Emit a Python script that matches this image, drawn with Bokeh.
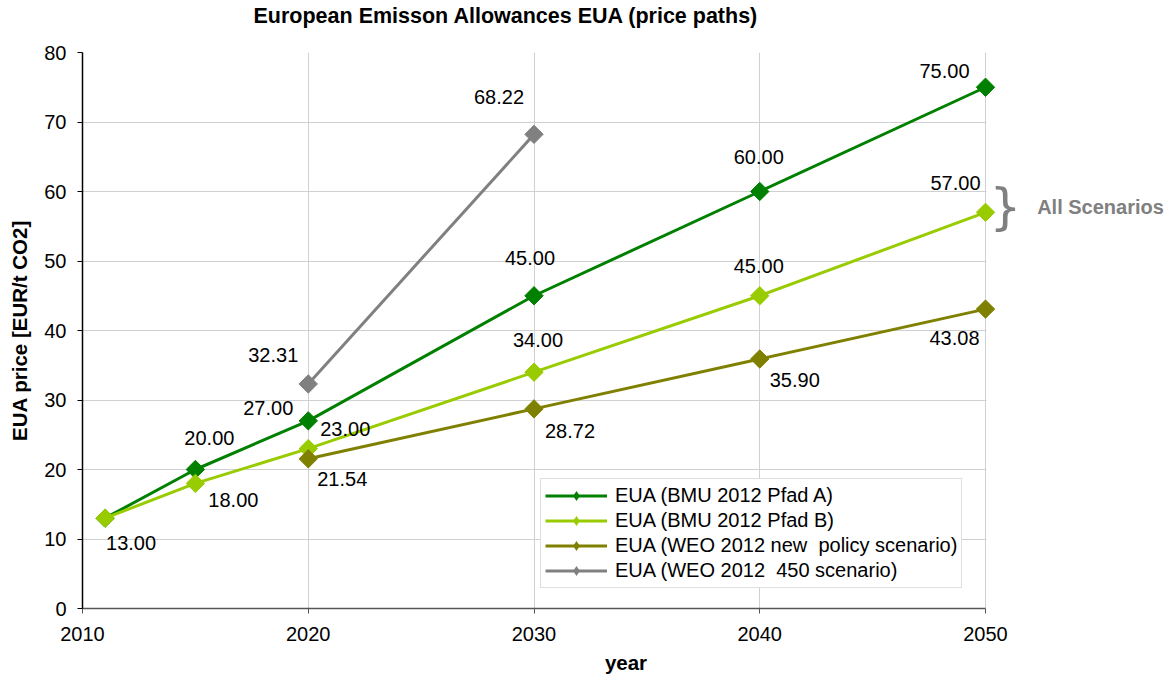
import math

from bokeh.core.properties import value
from bokeh.embed import file_html
from bokeh.models import (BoxAnnotation, ColumnDataSource, FixedTicker,
                          Legend, LegendItem, Range1d, Title)
from bokeh.plotting import figure
from bokeh.resources import INLINE

# EUA price paths [EUR/t CO2]
years_a = [2011, 2015, 2020, 2030, 2040, 2050]
pfad_a = [13.00, 20.00, 27.00, 45.00, 60.00, 75.00]

years_b = [2011, 2015, 2020, 2030, 2040, 2050]
pfad_b = [13.00, 18.00, 23.00, 34.00, 45.00, 57.00]

years_weo_np = [2020, 2030, 2040, 2050]
weo_new_policy = [21.54, 28.72, 35.90, 43.08]

years_weo_450 = [2020, 2030]
weo_450 = [32.31, 68.22]

series_names = [
    "EUA (BMU 2012 Pfad A)",
    "EUA (BMU 2012 Pfad B)",
    "EUA (WEO 2012 new  policy scenario)",
    "EUA (WEO 2012  450 scenario)",
]
note_text = "All Scenarios"

x_ticks = [2010, 2020, 2030, 2040, 2050]
y_ticks = [0, 10, 20, 30, 40, 50, 60, 70, 80]

# styling
colors = ["#008000", "#99cc00", "#808000", "#808080"]
FONT = "Liberation Sans"

# value-label offsets in screen pixels (dx, dy; dy positive = down); None = no label
label_offsets = [
    [None, (14, -32), (-40, -13), (-4, -38), (-1, -35), (-41, -16)],
    [(26, 25), (38, 17), (37, -20), (4, -32), (-1, -30), (-30, -29)],
    [(34, 20), (36, 22), (35, 21), (-31, 29)],
    [(-35, -29), (-35, -37)],
]

# the frame runs on past the last year to leave room for the side note
AXIS_PX = 903      # pixel length of the 2010-2050 axis
SIDE_PX = 184      # free space right of the axis end
x_lo, x_hi = x_ticks[0], x_ticks[-1]
x_end = x_hi + (x_hi - x_lo) * SIDE_PX / AXIS_PX

p = figure(
    width=1169, height=676,
    x_range=Range1d(x_lo, x_end), y_range=Range1d(y_ticks[0], y_ticks[-1]),
    output_backend="svg", toolbar_location=None,
    min_border_left=82, min_border_right=0,
    min_border_top=52, min_border_bottom=68,
    background_fill_color="white", border_fill_color="white",
)
p.outline_line_color = None

p.title.text = "European Emisson Allowances EUA (price paths)"
p.title.text_font = FONT
p.title.text_font_size = "21.5px"
p.title.text_font_style = "bold"
p.title.text_color = "black"
p.title.align = "left"
p.title.offset = 171
p.title.standoff = 0
# blank panel that keeps the title clear of the plot area
p.add_layout(Title(text=" ", text_font_size="1px", standoff=22), "above")

# axes
for ax in (p.xaxis, p.yaxis):
    ax.minor_tick_line_color = None
    ax.major_tick_in = 0
    ax.major_tick_out = 5
    ax.major_label_text_font = FONT
    ax.major_label_text_font_size = "20px"
    ax.major_label_text_color = "black"
    ax.axis_label_text_font = FONT
    ax.axis_label_text_font_size = "20.5px"
    ax.axis_label_text_font_style = "bold"
    ax.axis_label_text_color = "black"

p.xaxis.ticker = FixedTicker(ticks=x_ticks)
p.yaxis.ticker = FixedTicker(ticks=y_ticks)
p.xaxis.bounds = (x_lo, x_hi)
p.xaxis.axis_label = "year"
p.yaxis.axis_label = "EUA price [EUR/t CO2]"
p.xaxis.axis_line_color = "#555555"
p.xaxis.major_tick_line_color = "#555555"
p.yaxis.axis_line_color = "black"
p.yaxis.major_tick_line_color = "black"
p.xaxis.axis_line_width = 1.5
p.yaxis.axis_line_width = 1.5
p.yaxis.major_label_standoff = 11
p.xaxis.major_label_standoff = 13
p.xaxis.axis_label_standoff = 7
p.yaxis.axis_label_standoff = 10

# grid
p.xgrid.ticker = FixedTicker(ticks=x_ticks)
p.ygrid.ticker = FixedTicker(ticks=y_ticks)
p.grid.grid_line_color = "#d0d0d0"
p.grid.grid_line_width = 1

# blank out the horizontal grid lines beyond the last year
p.add_layout(BoxAnnotation(left=x_hi + 0.04, fill_color="white", fill_alpha=1,
                           line_color=None, level="underlay"))

series = [
    (years_a, pfad_a),
    (years_b, pfad_b),
    (years_weo_np, weo_new_policy),
    (years_weo_450, weo_450),
]

legend_items = []
for (xs, ys), color, name in zip(series, colors, series_names):
    src = ColumnDataSource(data=dict(x=xs, y=ys))
    r_line = p.line("x", "y", source=src, line_color=color, line_width=3)
    p.scatter("x", "y", source=src, marker="square", angle=math.pi / 4,
              size=13, fill_color=color, line_color=color)
    # zero-size diamonds: invisible in the plot, they only supply the legend swatch
    r_key = p.scatter("x", "y", source=src, marker="diamond", size=0,
                      fill_color=color, line_color=None)
    legend_items.append(LegendItem(label=name, renderers=[r_line, r_key]))

# value labels
lab = dict(x=[], y=[], text=[], dx=[], dy=[])
for (xs, ys), offs in zip(series, label_offsets):
    for xv, yv, off in zip(xs, ys, offs):
        if off is None:
            continue
        lab["x"].append(xv)
        lab["y"].append(yv)
        lab["text"].append(f"{yv:.2f}")
        lab["dx"].append(off[0])
        lab["dy"].append(off[1])

p.text("x", "y", text="text", x_offset="dx", y_offset="dy",
       source=ColumnDataSource(data=lab),
       text_align="center", text_baseline="middle",
       text_font=value(FONT), text_font_size="20px", text_color="black")

# bracket and note next to the 2050 values
p.text(x=[years_b[-1]], y=[pfad_b[-1]], text=["}"], x_offset=20, y_offset=-5,
       text_align="center", text_baseline="middle",
       text_font=value("DejaVu Sans"), text_font_size="50px",
       text_color="#808080")
p.text(x=[years_b[-1]], y=[pfad_b[-1]], text=[note_text], x_offset=115, y_offset=-5,
       text_align="center", text_baseline="middle",
       text_font=value(FONT), text_font_size="20px", text_font_style="bold",
       text_color="#808080")

legend = Legend(items=legend_items, location=(458, 20))
legend.label_text_font = FONT
legend.label_text_font_size = "20px"
legend.label_text_color = "black"
legend.glyph_width = 62
legend.glyph_height = 25
legend.label_height = 25
legend.label_standoff = 8
legend.spacing = 0
legend.padding = 4
legend.margin = 0
legend.border_line_color = "#c0c0c0"
legend.border_line_width = 1
legend.background_fill_alpha = 1
p.add_layout(legend)

open("out.html", "w").write(file_html(p, INLINE))
